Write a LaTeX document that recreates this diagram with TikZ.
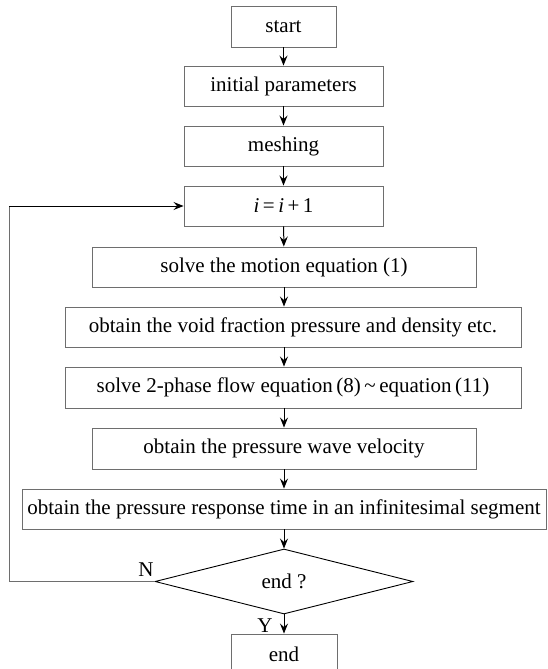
\documentclass[tikz,border=0pt]{standalone}
\usepackage{fontspec}
\setmainfont{Liberation Serif}
\usetikzlibrary{shapes.geometric,arrows.meta}
\definecolor{boxgray}{RGB}{110,110,110}
\begin{document}
\begin{tikzpicture}[x=1pt,y=-1pt,
  box/.style={draw=boxgray, line width=0.9pt, minimum height=40pt, inner sep=0pt,
    font=\fontsize{21}{25}\selectfont},
  arr/.style={-{Stealth[length=10pt,width=8pt,inset=3.5pt]}, line width=1pt, black},
  lbl/.style={font=\fontsize{21}{25}\selectfont, inner sep=0pt}]
\useasboundingbox (0,0) rectangle (547,669);
\node[box, minimum width=105pt, minimum height=41pt] (start) at (283.5,26.5) {start};
\node[box, minimum width=199pt] (init) at (283.5,86) {initial parameters};
\node[box, minimum width=199pt] (mesh) at (283.5,146) {meshing};
\node[box, minimum width=199pt] (inc) at (283.5,206) {\textit{i}\,=\,\textit{i}\,+\,1};
\node[box, minimum width=384pt] (motion) at (284,267) {solve the motion equation (1)};
\node[box, minimum width=456pt] (void) at (293,327) {obtain the void fraction pressure and density etc.};
\node[box, minimum width=456pt, minimum height=41pt] (twoph) at (293,387.5) {solve 2-phase flow equation\,(8)\,\textasciitilde\,equation\,(11)};
\node[box, minimum width=384pt, minimum height=41pt] (vel) at (284,448.5) {obtain the pressure wave velocity};
\node[box, minimum width=524pt] (resp) at (284,509) {obtain the pressure response time in an infinitesimal segment};
\node[draw=black, line width=0.9pt, diamond, aspect=4, minimum width=258pt, minimum height=65pt, inner sep=0pt,
  font=\fontsize{21}{25}\selectfont] (dia) at (284,581.5) {end ?};
\node[box, minimum width=106pt, minimum height=41pt] (stop) at (284,654.5) {end};
\node[lbl] (nlab) at (146,570) {N};
\node[lbl] (ylab) at (265,626) {Y};
\coordinate (c1) at (9,581.5);
\coordinate (c2) at (9,206);
\draw[arr] (start) -- (init);
\draw[arr] (init) -- (mesh);
\draw[arr] (mesh) -- (inc);
\draw[arr] (inc) -- (motion);
\draw[arr] (motion.south) -- (motion.south |- void.north);
\draw[arr] (motion.south |- void.south) -- (motion.south |- twoph.north);
\draw[arr] (motion.south |- twoph.south) -- (vel.north);
\draw[arr] (vel) -- (resp);
\draw[arr] (resp) -- (dia);
\draw[arr] (dia) -- (stop);
\draw[line width=0.9pt, boxgray] (dia.west) -- (c1) -- (c2);
\draw[arr] (c2) -- (inc.west);
\end{tikzpicture}
\end{document}
